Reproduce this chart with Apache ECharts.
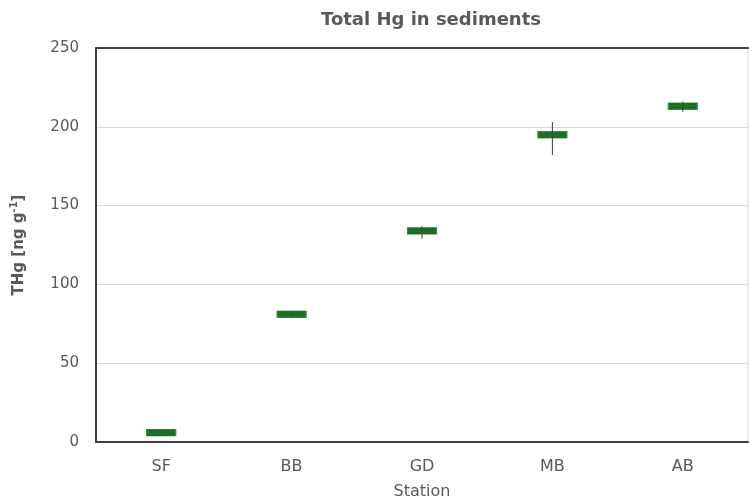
<!DOCTYPE html>
<html>
<head>
<meta charset="utf-8">
<script src="https://cdn.jsdelivr.net/npm/echarts@6/dist/echarts.min.js"></script>
<style>
  html, body { margin: 0; padding: 0; background: #ffffff; overflow: hidden; }
  #chart { width: 749px; height: 502px; }
</style>
</head>
<body>
<div id="chart"></div>
<script>
// Sampling stations along the transect
const stations = ['SF', 'BB', 'GD', 'MB', 'AB'];
// Mean total mercury in sediments (ng/g)
const thgMean = [6, 81, 134, 195, 213];
// Lower and upper ends of the error bars (ng/g)
const thgLow = [5, 79.5, 129, 182, 209.5];
const thgHigh = [7, 82.5, 137, 203, 216];
// Value-axis ticks
const yTicks = [0, 50, 100, 150, 200, 250];

const FONT = '"DejaVu Sans", Verdana, sans-serif';
const TEXT = '#595959';

const chart = echarts.init(document.getElementById('chart'), null, { renderer: 'canvas' });

const errorData = stations.map((s, i) => [i, thgLow[i], thgHigh[i]]);

chart.setOption({
  animation: false,
  backgroundColor: '#ffffff',
  title: {
    text: 'Total Hg in sediments',
    left: 316,
    top: 6,
    textStyle: { fontFamily: FONT, fontSize: 18, fontWeight: 'bold', color: TEXT }
  },
  grid: {
    left: 96, right: 1, top: 48, bottom: 60,
    containLabel: false,
    outerBoundsMode: 'none',
    show: true, borderColor: '#d9d9d9', borderWidth: 1
  },
  xAxis: [{
    type: 'category',
    data: stations,
    name: 'Station',
    nameLocation: 'middle',
    nameGap: 42,
    nameTextStyle: { fontFamily: FONT, fontSize: 16, color: TEXT },
    axisLine: { lineStyle: { color: '#404040', width: 2 } },
    axisTick: { show: false },
    axisLabel: { fontFamily: FONT, fontSize: 16, color: TEXT, margin: 17 }
  }, {
    type: 'category',
    data: stations,
    position: 'top',
    axisLine: { lineStyle: { color: '#404040', width: 2 } },
    axisTick: { show: false },
    axisLabel: { show: false }
  }],
  yAxis: {
    type: 'value',
    min: yTicks[0],
    max: yTicks[yTicks.length - 1],
    interval: yTicks[1] - yTicks[0],
    name: 'THg [ng g{sup|-1}]',
    nameLocation: 'middle',
    nameGap: 67,
    nameTextStyle: {
      fontFamily: FONT, fontSize: 15, fontWeight: 'bold', color: TEXT,
      rich: {
        sup: { fontFamily: FONT, fontSize: 10, fontWeight: 'bold', color: TEXT, verticalAlign: 'top', lineHeight: 20 }
      }
    },
    axisLine: { show: true, lineStyle: { color: '#404040', width: 2 } },
    axisTick: { show: false },
    axisLabel: { fontFamily: FONT, fontSize: 15, color: TEXT, margin: 17 },
    splitLine: { lineStyle: { color: '#d9d9d9', width: 1 } }
  },
  series: [{
    type: 'scatter',
    data: thgMean,
    symbol: 'rect',
    symbolSize: [29, 7],
    itemStyle: { color: '#1e6e2a', borderColor: '#3f8c4a', borderWidth: 0.6, opacity: 1 },
    z: 2
  }, {
    type: 'custom',
    data: errorData,
    z: 3,
    renderItem: function (params, api) {
      const x = api.value(0);
      const top = api.coord([x, api.value(2)]);
      const bot = api.coord([x, api.value(1)]);
      return {
        type: 'line',
        shape: { x1: top[0], y1: top[1], x2: bot[0], y2: bot[1] },
        style: { stroke: '#404040', lineWidth: 1 }
      };
    }
  }]
});
</script>
</body>
</html>
